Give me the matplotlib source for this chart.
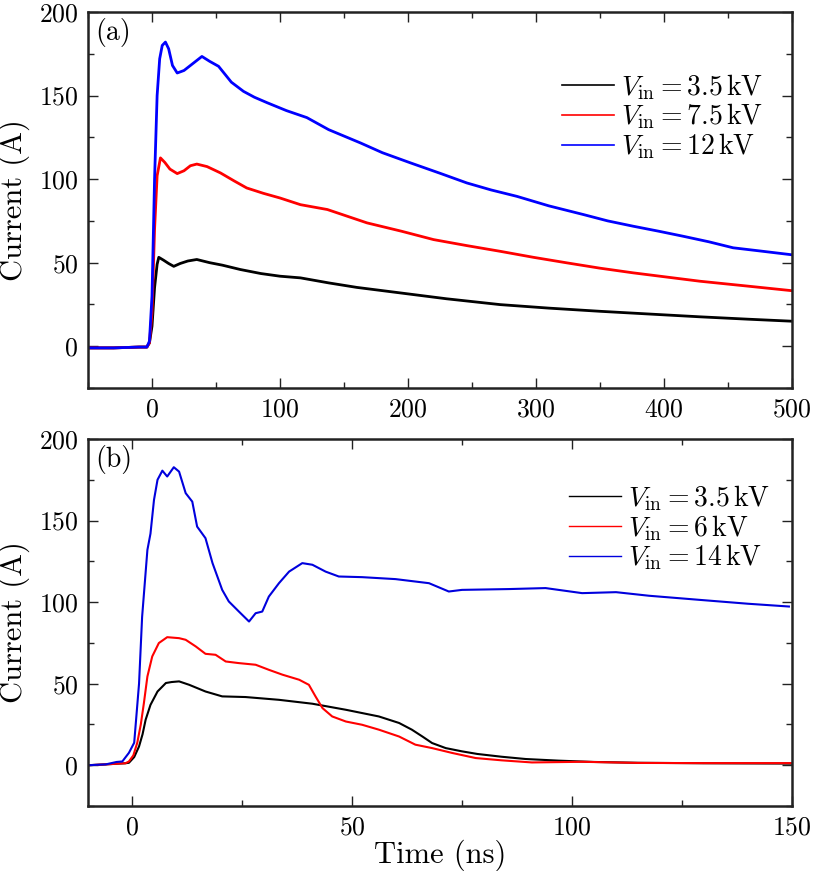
import matplotlib
matplotlib.use("Agg")
import matplotlib.pyplot as plt
from matplotlib.ticker import MultipleLocator

plt.rcParams['font.family'] = ['cmr10', 'DejaVu Serif']
plt.rcParams['mathtext.fontset'] = 'cm'
plt.rcParams['axes.formatter.use_mathtext'] = True

# ---------------- Panel (a) data (time in ns, current in A) ----------------
a_t_black = [-50, -30, -10, -4, -2, 0, 2, 4, 5.3, 9, 13, 17, 22, 28, 35, 45, 55, 69, 85, 100, 116, 138, 160, 194, 230, 272, 310, 350, 390, 428, 465, 499]
a_i_black = [-1, -1, -0.5, -0.5, 2, 12, 35, 49, 53.2, 51.5, 49.5, 47.8, 49.5, 51, 51.9, 50, 48.5, 45.9, 43.5, 41.9, 40.9, 37.9, 35.2, 31.9, 28.4, 24.9, 22.8, 20.9, 19.2, 17.6, 16.2, 15]

a_t_red = [-50, -30, -10, -4, -2, 0, 2, 4, 6.6, 10, 14, 19.7, 25, 30, 35, 43, 53.5, 64, 74, 87, 100, 116, 137, 168, 195, 220, 246, 272, 298, 324, 350, 376, 402, 428, 465, 499]
a_i_red = [-1, -1, -0.5, -0.5, 2, 20, 70, 102, 112.7, 110, 106, 103.3, 105, 108, 109, 107.5, 103.7, 99, 94.7, 91.5, 88.7, 84.7, 81.8, 73.8, 68.8, 63.8, 60.2, 56.8, 53.2, 49.9, 46.7, 43.9, 41.4, 38.9, 36, 33.3]

a_t_blue = [-50, -30, -10, -4, -2, 0, 2, 4, 6, 8, 10.5, 13, 16, 19.7, 25, 30, 35, 39, 45, 52, 62, 71.5, 80, 90, 105, 121, 138, 163, 180, 202, 225, 246, 265, 285, 310, 337, 356, 376, 396, 415, 435, 454, 475, 499]
a_i_blue = [-1, -1, -0.5, -0.5, 3, 30, 100, 150, 172, 180, 182, 178, 168, 163.5, 165, 168, 171, 173.4, 170.5, 167.5, 158, 152.5, 149, 145.7, 141, 136.8, 129.6, 121.6, 115.8, 109.7, 103.5, 97.7, 93.5, 89.7, 84, 78.8, 75, 71.8, 68.8, 65.8, 62.5, 58.9, 57, 54.8]

# ---------------- Panel (b) data ----------------
b_t_black = [-10, -6, -3, -1.5, -0.7, 0.5, 1.6, 2.4, 3.1, 4.2, 5.8, 7.7, 9, 10.7, 13, 16.7, 20.5, 25.8, 33.4, 41, 48.6, 56.1, 60.7, 63.6, 66, 68.2, 71.3, 75, 78.5, 84, 89.5, 97, 105, 115, 130, 150]
b_i_black = [0, 0.5, 1, 1.2, 1.5, 5, 11.5, 19, 27.9, 37, 45.2, 50.4, 51, 51.4, 49.3, 45.2, 42.2, 41.8, 40.1, 37.7, 34, 29.9, 25.9, 21.8, 17.6, 13.6, 10.5, 8.5, 6.9, 5.2, 3.8, 2.8, 2.0, 1.5, 1.2, 1.0]

b_t_red = [-10, -6, -3, -1.5, -0.7, 0.3, 1.2, 2.0, 2.7, 3.5, 4.6, 6.1, 8, 10.7, 12.2, 14.5, 16.7, 19, 21.3, 24.3, 28.1, 31.1, 34.2, 38, 40.2, 41.7, 43.3, 45.5, 48.6, 52.3, 56.1, 60.7, 64.4, 68.2, 72.8, 78.1, 84, 90.9, 102.3, 115, 130, 150]
b_i_red = [0, 0.5, 1, 1.2, 2.3, 6, 13.8, 25, 38, 54.4, 66.7, 74.9, 78.5, 77.9, 76.9, 72.8, 68.3, 67.7, 63.6, 62.6, 61.6, 58.5, 55.5, 52.4, 49.3, 42.2, 35, 29.9, 26.8, 24.8, 21.8, 17.6, 12.6, 10.5, 7.5, 4.4, 3.0, 1.7, 2.1, 1.4, 1.3, 1.3]

b_t_blue = [-10, -6, -3.5, -2.2, -0.7, 0.5, 1.6, 2.3, 3.5, 4.2, 5.0, 5.8, 6.9, 8.0, 9.5, 10.7, 12.2, 13.7, 14.8, 16.7, 18.3, 20.5, 22.0, 24.3, 26.6, 28.1, 29.6, 31.1, 33.4, 35.7, 38.7, 41, 44, 47, 52.3, 59.9, 67.5, 72, 75, 85.7, 94, 102.3, 110, 117.5, 128.9, 140, 149.3]
b_i_blue = [0, 0.5, 2, 2.3, 7.6, 13.8, 50, 91, 132, 142, 162.7, 175, 180.6, 177, 182.7, 180, 166.8, 161.6, 146.3, 139.2, 123.9, 107.5, 100.4, 94.2, 88.1, 93.2, 94.2, 103.4, 111.6, 118.7, 123.9, 122.9, 118.7, 115.7, 115.3, 114.1, 111.6, 106.5, 107.5, 108, 108.6, 105.5, 106.1, 103.9, 101.4, 99, 97.3]

labels_a = [r'$V_{\rm in}=3.5\,{\rm kV}$', r'$V_{\rm in}=7.5\,{\rm kV}$', r'$V_{\rm in}=12\,{\rm kV}$']
labels_b = [r'$V_{\rm in}=3.5\,{\rm kV}$', r'$V_{\rm in}=6\,{\rm kV}$', r'$V_{\rm in}=14\,{\rm kV}$']

W, H = 813, 871
fig = plt.figure(figsize=(W / 100, H / 100), dpi=100)
axA = fig.add_axes([88 / W, 1 - 388 / H, (792 - 88) / W, (388 - 12) / H])
axB = fig.add_axes([88 / W, 1 - 806 / H, (792 - 88) / W, (806 - 439) / H])

spine_col = '#222222'
tick_fs = 18.5
label_fs = 22
leg_fs = 20


def style(ax, xmaj, xmin):
    for s in ax.spines.values():
        s.set_linewidth(1.8)
        s.set_color(spine_col)
    ax.xaxis.set_major_locator(MultipleLocator(xmaj))
    ax.xaxis.set_minor_locator(MultipleLocator(xmin))
    ax.yaxis.set_major_locator(MultipleLocator(50))
    ax.yaxis.set_minor_locator(MultipleLocator(25))
    ax.tick_params(which='both', direction='in', top=True, right=True,
                   labelsize=tick_fs, color=spine_col)
    ax.tick_params(which='major', length=7, width=1.0, pad=7)
    ax.tick_params(which='minor', length=4, width=1.0)
    ax.set_ylim(-25, 200)
    ax.set_ylabel('Current (A)', fontsize=label_fs, labelpad=6)


axA.plot(a_t_black, a_i_black, color='black', lw=2.0, label=labels_a[0])
axA.plot(a_t_red, a_i_red, color='#ff0000', lw=2.0, label=labels_a[1])
axA.plot(a_t_blue, a_i_blue, color='#0000ff', lw=2.0, label=labels_a[2])
axA.set_xlim(-50, 500)
style(axA, 100, 50)
axA.text(0.01, 0.985, '(a)', transform=axA.transAxes, fontsize=20, va='top', ha='left')
legA = axA.legend(loc='upper right', bbox_to_anchor=(0.975, 0.87), frameon=False,
                  fontsize=leg_fs, handlelength=1.9, handletextpad=0.25, labelspacing=0.0,
                  borderaxespad=0.0)
for h in legA.get_lines():
    h.set_linewidth(1.2)

axB.plot(b_t_black, b_i_black, color='black', lw=1.5, label=labels_b[0])
axB.plot(b_t_red, b_i_red, color='#ff0000', lw=1.5, label=labels_b[1])
axB.plot(b_t_blue, b_i_blue, color='#0000dd', lw=1.5, label=labels_b[2])
axB.set_xlim(-10, 150)
style(axB, 50, 25)
axB.set_xlabel('Time (ns)', fontsize=label_fs, labelpad=0)
axB.text(0.01, 0.985, '(b)', transform=axB.transAxes, fontsize=20, va='top', ha='left')
legB = axB.legend(loc='upper right', bbox_to_anchor=(0.985, 0.91), frameon=False,
                  fontsize=leg_fs, handlelength=1.9, handletextpad=0.25, labelspacing=0.0,
                  borderaxespad=0.0)
for h in legB.get_lines():
    h.set_linewidth(1.0)

fig.savefig('out.png', dpi=100)
